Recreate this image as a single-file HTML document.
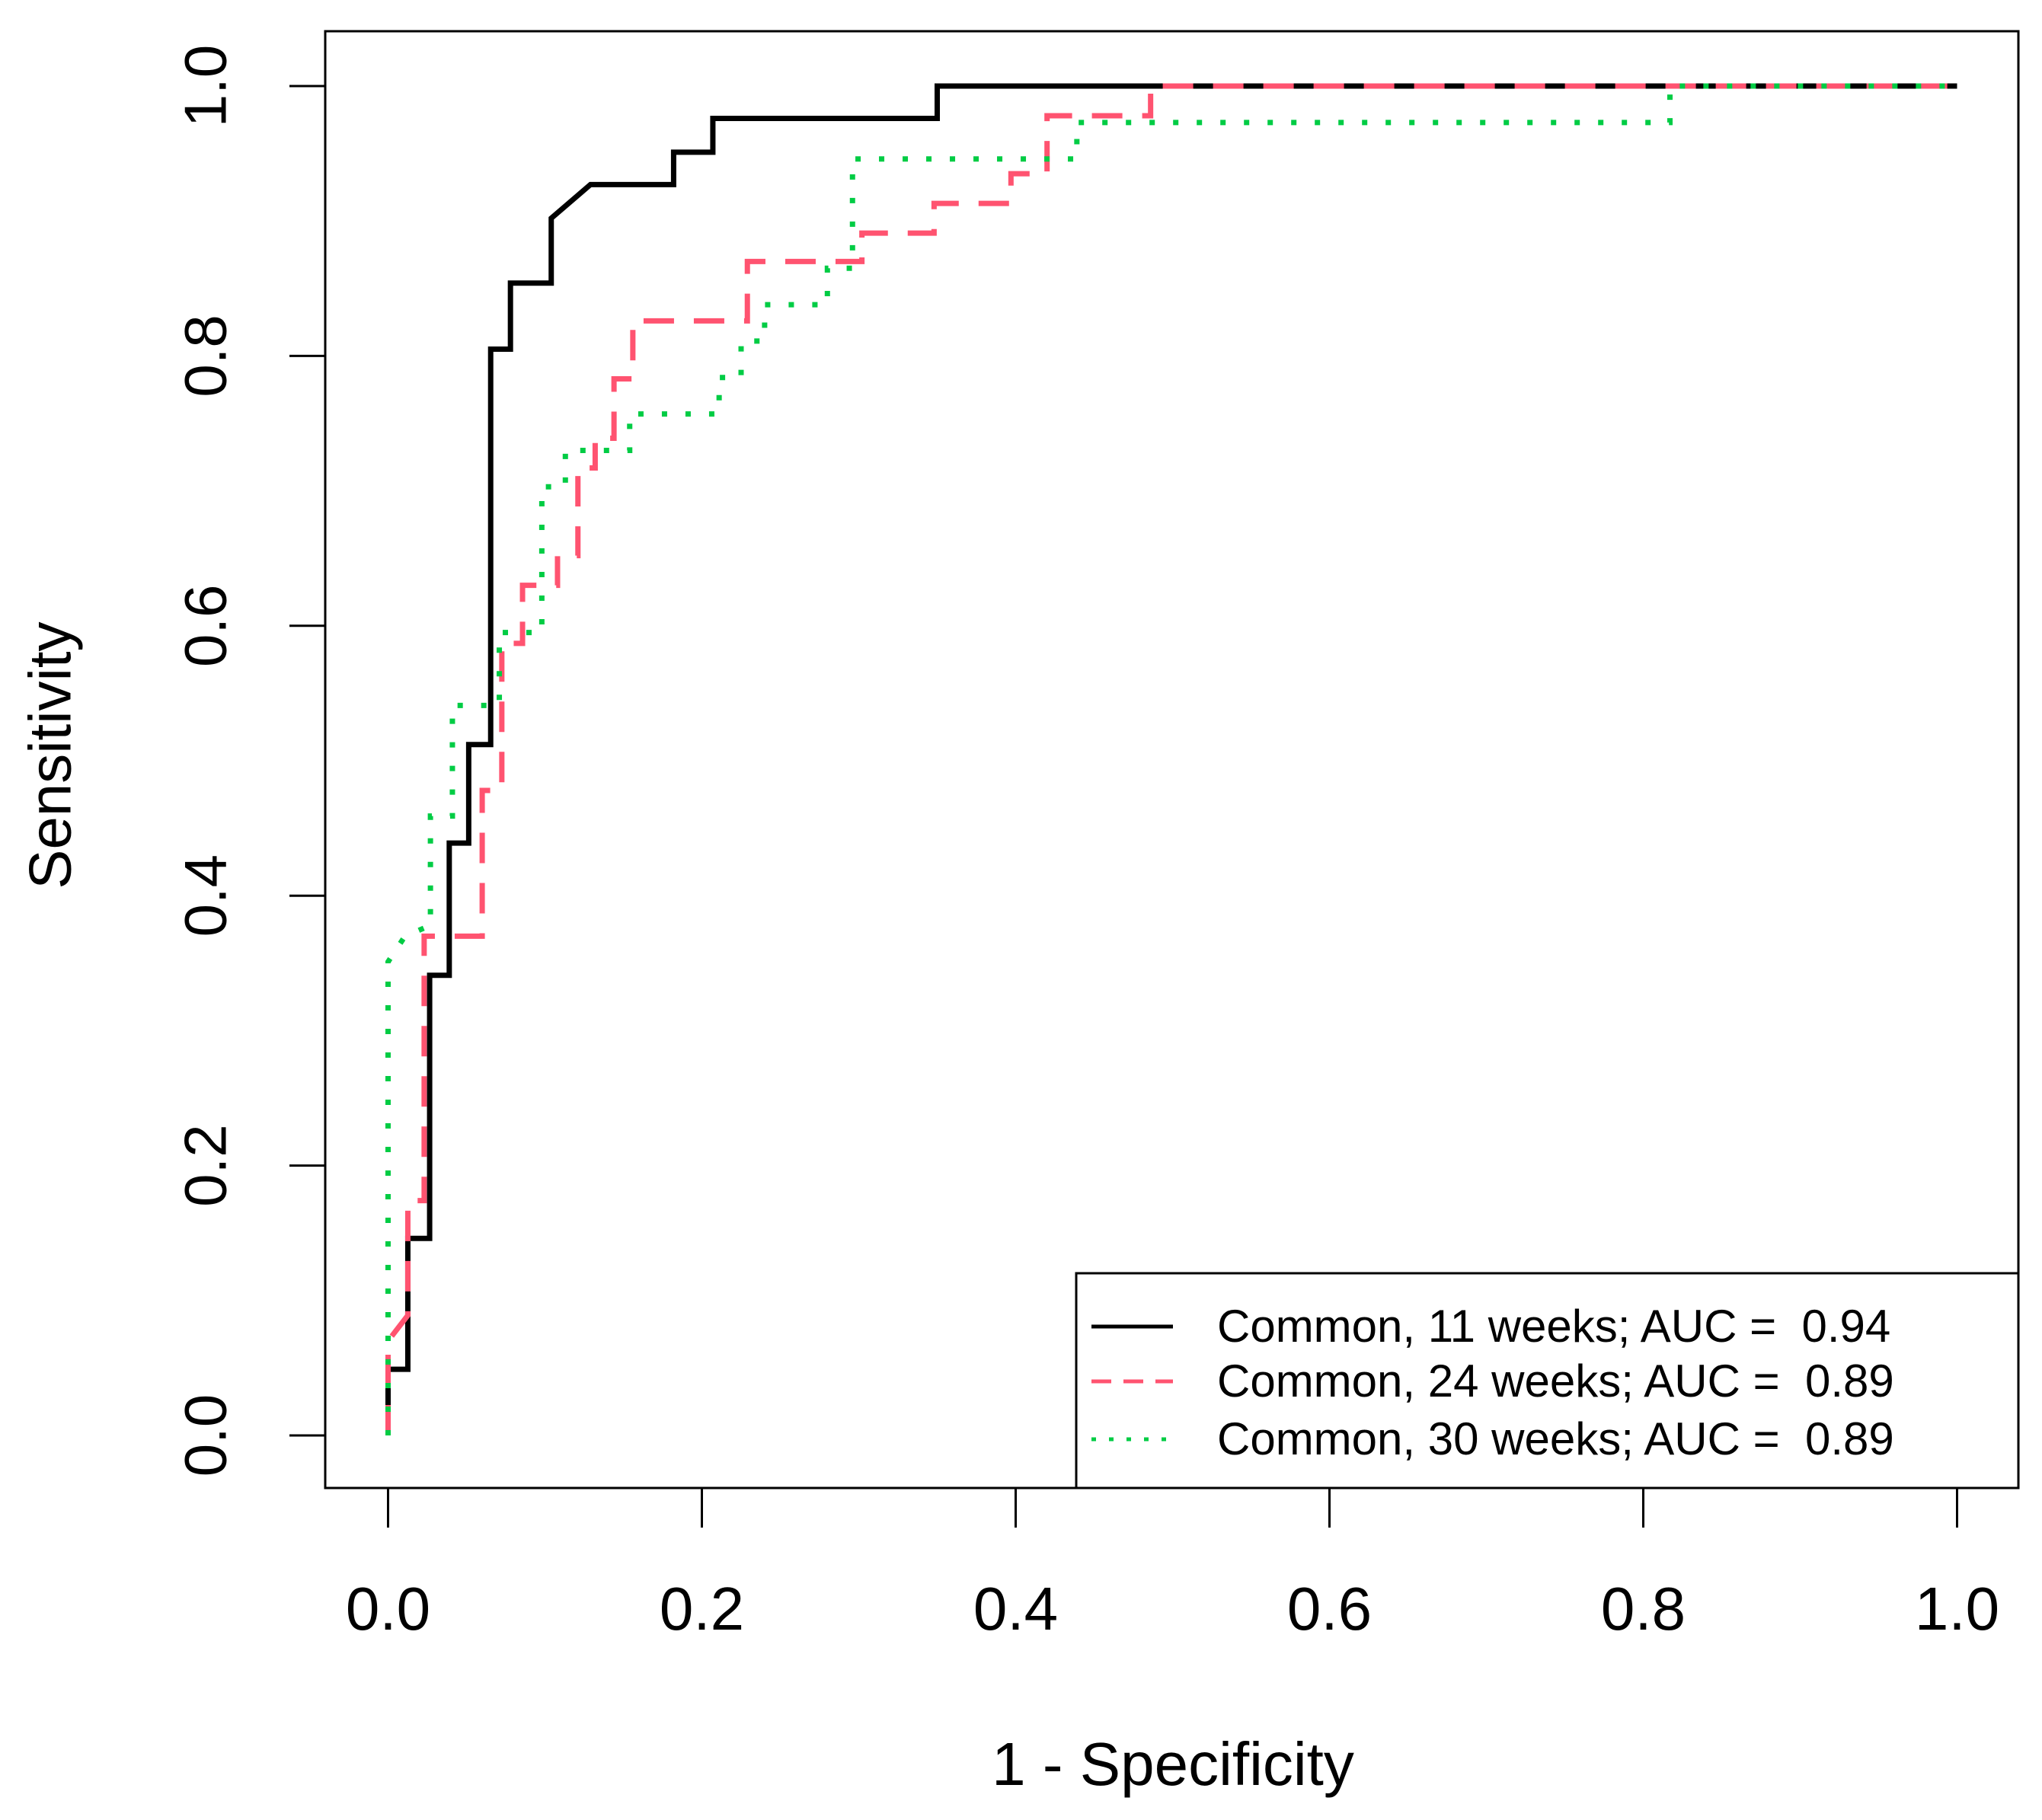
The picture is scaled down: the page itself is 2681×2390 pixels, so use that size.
<!DOCTYPE html>
<html><head><meta charset="utf-8"><style>
body{margin:0;background:#fff;}
svg{display:block;font-family:"Liberation Sans",Arial,sans-serif;}
</style></head><body>
<svg id="chart" width="2681" height="2390" viewBox="0 0 2681 2390" xmlns="http://www.w3.org/2000/svg">
<rect x="0" y="0" width="2681" height="2390" fill="#fff"/>
<g id="marks"></g>
<rect x="427" y="41" width="2223" height="1913" fill="none" stroke="#000" stroke-width="3"/>
<g id="axes"></g>
<text x="72" y="992" font-size="78" text-anchor="middle" transform="rotate(-90 72 992)" dominant-baseline="middle">Sensitivity</text>
<text x="1540" y="2344" font-size="80" text-anchor="middle">1 - Specificity</text>
<g>
<rect x="1413" y="1672" width="1237" height="282" fill="#fff" stroke="#000" stroke-width="3"/>
<line x1="1433" y1="1742" x2="1540" y2="1742" stroke="#000" stroke-width="5"/>
<line x1="1433" y1="1814" x2="1540" y2="1814" stroke="#FF5370" stroke-width="5" stroke-dasharray="26 16"/>
<line x1="1433" y1="1890" x2="1540" y2="1890" stroke="#00CC44" stroke-width="5" stroke-dasharray="6 17"/>
<text x="1598" y="1762" font-size="60">Common, 11 weeks; AUC =&#160; 0.94</text>
<text x="1598" y="1834" font-size="60">Common, 24 weeks; AUC =&#160; 0.89</text>
<text x="1598" y="1910" font-size="60">Common, 30 weeks; AUC =&#160; 0.89</text>
</g>
</svg>
<script>
const xTicks = [0, 0.2, 0.4, 0.6, 0.8, 1.0];
const xTickLabels = ["0.0", "0.2", "0.4", "0.6", "0.8", "1.0"];
const yTicks = [0, 0.2, 0.4, 0.6, 0.8, 1.0];
const yTickLabels = ["0.0", "0.2", "0.4", "0.6", "0.8", "1.0"];
const fpr11 = [0,0,0.0126,0.0126,0.0265,0.0265,0.039,0.039,0.0514,0.0514,0.0654,0.0654,0.078,0.078,0.104,0.104,0.129,0.182,0.182,0.207,0.207,0.350,0.350,1.0];
const tpr11 = [0,0.049,0.049,0.146,0.146,0.341,0.341,0.439,0.439,0.512,0.512,0.805,0.805,0.854,0.854,0.902,0.927,0.927,0.951,0.951,0.976,0.976,1.0,1.0];
const fpr24 = [0,0,0.0126,0.0126,0.023,0.023,0.060,0.060,0.0725,0.0725,0.0857,0.0857,0.108,0.108,0.121,0.121,0.132,0.132,0.144,0.144,0.156,0.156,0.229,0.229,0.302,0.302,0.348,0.348,0.397,0.397,0.420,0.420,0.486,0.486,1.0];
const tpr24 = [0,0.07,0.089,0.174,0.174,0.370,0.370,0.478,0.478,0.587,0.587,0.630,0.630,0.652,0.652,0.717,0.717,0.739,0.739,0.783,0.783,0.826,0.826,0.870,0.870,0.891,0.891,0.913,0.913,0.935,0.935,0.978,0.978,1.0,1.0];
const fpr30 = [0,0,0.0108,0.027,0.027,0.041,0.041,0.0709,0.0709,0.098,0.098,0.113,0.113,0.154,0.154,0.211,0.211,0.225,0.225,0.240,0.240,0.280,0.280,0.296,0.296,0.439,0.439,0.817,0.817,1.0];
const tpr30 = [0,0.351,0.370,0.378,0.459,0.459,0.541,0.541,0.595,0.595,0.703,0.703,0.730,0.730,0.757,0.757,0.784,0.784,0.811,0.811,0.838,0.838,0.865,0.865,0.946,0.946,0.973,0.973,1.0,1.0];

const NS = "http://www.w3.org/2000/svg";
const X0 = 509.5, XW = 2060, Y0 = 1885, YH = 1772;
function sx(v){ return X0 + v * XW; }
function sy(v){ return Y0 - v * YH; }
const axes = document.getElementById('axes');
const marks = document.getElementById('marks');

xTicks.forEach((t, i) => {
  const l = document.createElementNS(NS, 'line');
  l.setAttribute('x1', sx(t)); l.setAttribute('x2', sx(t));
  l.setAttribute('y1', 1954); l.setAttribute('y2', 2006);
  l.setAttribute('stroke', '#000'); l.setAttribute('stroke-width', 3);
  
  
  axes.appendChild(l);
  const tx = document.createElementNS(NS, 'text');
  tx.setAttribute('x', sx(t)); tx.setAttribute('y', 2140);
  tx.setAttribute('font-size', 80); tx.setAttribute('text-anchor', 'middle');
  tx.textContent = xTickLabels[i];
  
  
  axes.appendChild(tx);
});
const xl = document.createElementNS(NS, 'line');
xl.setAttribute('x1', sx(0)); xl.setAttribute('x2', sx(1));
xl.setAttribute('y1', 1954); xl.setAttribute('y2', 1954);
xl.setAttribute('stroke', '#000'); xl.setAttribute('stroke-width', 3);


axes.appendChild(xl);

yTicks.forEach((t, i) => {
  const l = document.createElementNS(NS, 'line');
  l.setAttribute('x1', 380); l.setAttribute('x2', 427);
  l.setAttribute('y1', sy(t)); l.setAttribute('y2', sy(t));
  l.setAttribute('stroke', '#000'); l.setAttribute('stroke-width', 3);
  
  
  axes.appendChild(l);
  const tx = document.createElementNS(NS, 'text');
  const cx = 276, cy = sy(t);
  tx.setAttribute('x', cx); tx.setAttribute('y', cy);
  tx.setAttribute('font-size', 78); tx.setAttribute('text-anchor', 'middle');
  tx.setAttribute('dominant-baseline', 'middle');
  tx.setAttribute('transform', 'rotate(-90 ' + cx + ' ' + cy + ')');
  tx.textContent = yTickLabels[i];
  
  
  axes.appendChild(tx);
});

function drawSeries(xs, ys, color, dash, name){
  const p = document.createElementNS(NS, 'polyline');
  p.setAttribute('points', xs.map((x, i) => sx(x) + ',' + sy(ys[i])).join(' '));
  p.setAttribute('fill', 'none'); p.setAttribute('stroke', color);
  p.setAttribute('stroke-width', 7);
  if (dash) p.setAttribute('stroke-dasharray', dash);
  
  
  marks.appendChild(p);
}
drawSeries(fpr11, tpr11, '#000', null, 'roc-curve-11-weeks');
drawSeries(fpr24, tpr24, '#FF5370', '40 26', 'roc-curve-24-weeks');
drawSeries(fpr30, tpr30, '#00CC44', '7 24', 'roc-curve-30-weeks');
</script>
</body></html>
